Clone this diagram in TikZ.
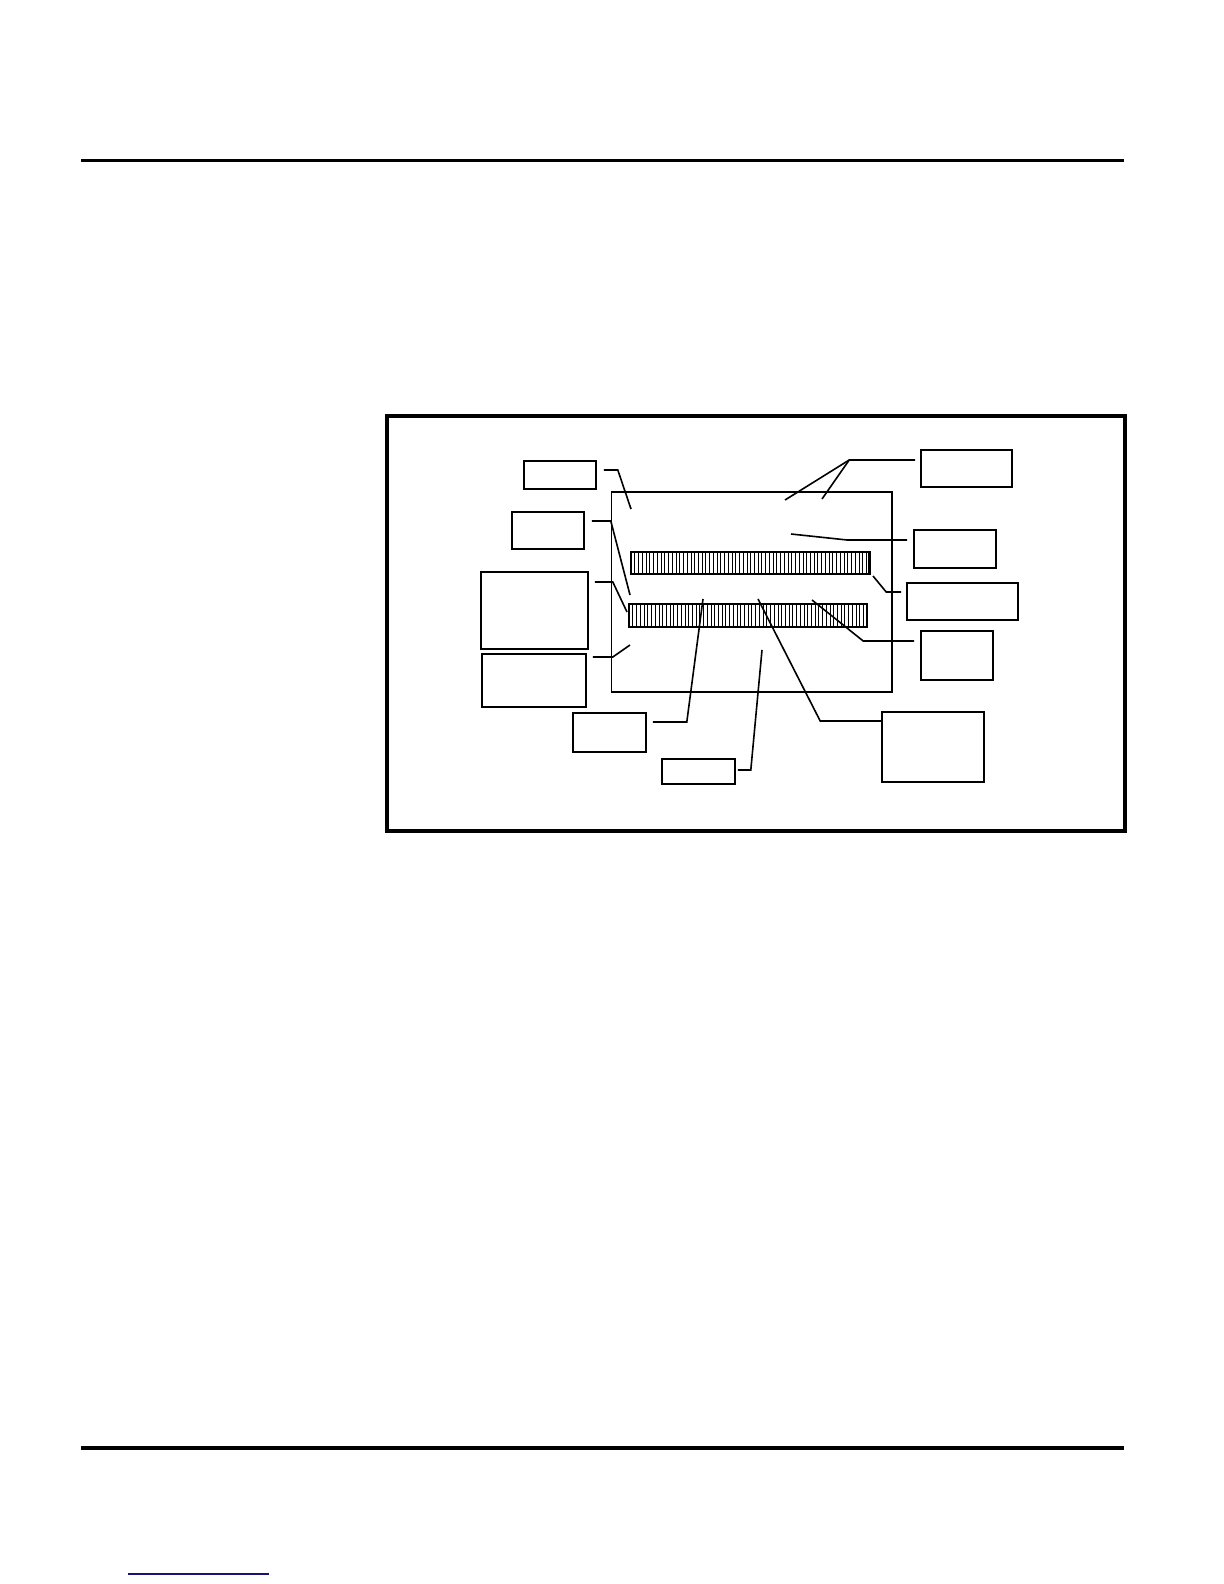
\documentclass[tikz,border=0pt]{standalone}
\usetikzlibrary{fit,calc}
\begin{document}
\begin{tikzpicture}[x=0.5pt,y=-0.5pt,
  box/.style={draw=black,line width=0.8pt,inner sep=0pt,fill=none},
  leader/.style={draw=black,line width=0.8pt,line join=miter},
  rule/.style={draw=black,line width=1.9pt},
  frame/.style={draw=black,line width=2pt},
  device/.style={draw=black,line width=0.55pt},
  hatch/.style={draw=black,line width=0.25pt}]
\useasboundingbox (0,0) rectangle (1224,1584);
% page rules
\draw[rule] (81,160.5) -- (1124,160.5);
\draw[rule] (81,1448) -- (1124,1448);
\definecolor{linkblue}{RGB}{20,20,120}
\draw[draw=linkblue,line width=0.65pt] (128,1574) -- (269,1574);
% frame
\draw[frame] (387,416) rectangle (1125,831);
% device outline
\draw[device] (611.5,492) rectangle (892,692);
% top bar
\foreach \i in {1,...,63} {\draw[hatch] ({631+\i*239/64},552) -- ({631+\i*239/64},574);}
\draw[draw=black,line width=1pt] (631,552) rectangle (870,574);
\draw[draw=black,line width=1.4pt] (869.5,552) -- (869.5,574);
% bottom bar
\foreach \i in {1,...,63} {\draw[hatch] ({629+\i*238/64},604) -- ({629+\i*238/64},627);}
\draw[draw=black,line width=0.55pt] (629,604) rectangle (867,627);
% label boxes
\newcommand{\lbox}[5]{\coordinate (#1-a) at (#2,#3); \coordinate (#1-b) at (#4,#5);
  \node[box,fit=(#1-a)(#1-b)] (#1) {};}
\lbox{A}{524}{461}{596}{489}
\lbox{B}{512}{512}{584}{549}
\lbox{C}{481}{572}{588}{649}
\lbox{D}{482}{654}{586}{707}
\lbox{E}{573}{713}{646}{752}
\lbox{F}{662}{759}{735}{784}
\lbox{G}{882}{712}{984}{782}
\lbox{H}{921}{450}{1012}{487}
\lbox{I}{914}{530}{996}{568}
\lbox{J}{907}{583}{1018}{620}
\lbox{K}{921}{631}{993}{680}
% free ends of leaders
\coordinate (eA) at (631,509);
\coordinate (eB) at (630,595);
\coordinate (eC) at (627,612);
\coordinate (eD) at (630,645);
\coordinate (eE) at (703,599);
\coordinate (eF) at (762,650);
\coordinate (eG) at (758,599);
\coordinate (eH1) at (785,500);
\coordinate (eH2) at (822,499);
\coordinate (eI) at (791,534);
\coordinate (eJ) at (873,576);
\coordinate (eK) at (812,600);
% leaders
\draw[leader] ($(A.east)+(7,-5)$) -- ($(A.east)+(21,-5)$) -- (eA);
\draw[leader] ($(B.east)+(7,-9.5)$) -- ($(B.east)+(26,-9.5)$) -- (eB);
\draw[leader] ($(C.east)+(6,-28.5)$) -- ($(C.east)+(24,-28.5)$) -- (eC);
\draw[leader] ($(D.east)+(6,-23.5)$) -- ($(D.east)+(26,-23.5)$) -- (eD);
\draw[leader] ($(E.east)+(6,-10.5)$) -- ($(E.east)+(40,-10.5)$) -- (eE);
\draw[leader] ($(F.east)+(2,-1.5)$) -- ($(F.east)+(15,-1.5)$) -- (eF);
\draw[leader] ($(G.west)+(0,-26)$) -- ($(G.west)+(-61,-26)$) -- (eG);
\draw[leader] ($(H.west)+(-5,-8.5)$) -- ($(H.west)+(-71,-8.5)$) coordinate (hH) -- (eH1);
\draw[leader] (hH) -- (eH2);
\draw[leader] ($(I.west)+(-6,-9)$) -- ($(I.west)+(-66,-9)$) -- (eI);
\draw[leader] ($(J.west)+(-5,-9.5)$) -- ($(J.west)+(-20,-9.5)$) -- (eJ);
\draw[leader] ($(K.west)+(-6,-14.5)$) -- ($(K.west)+(-57,-14.5)$) -- (eK);
\end{tikzpicture}
\end{document}
